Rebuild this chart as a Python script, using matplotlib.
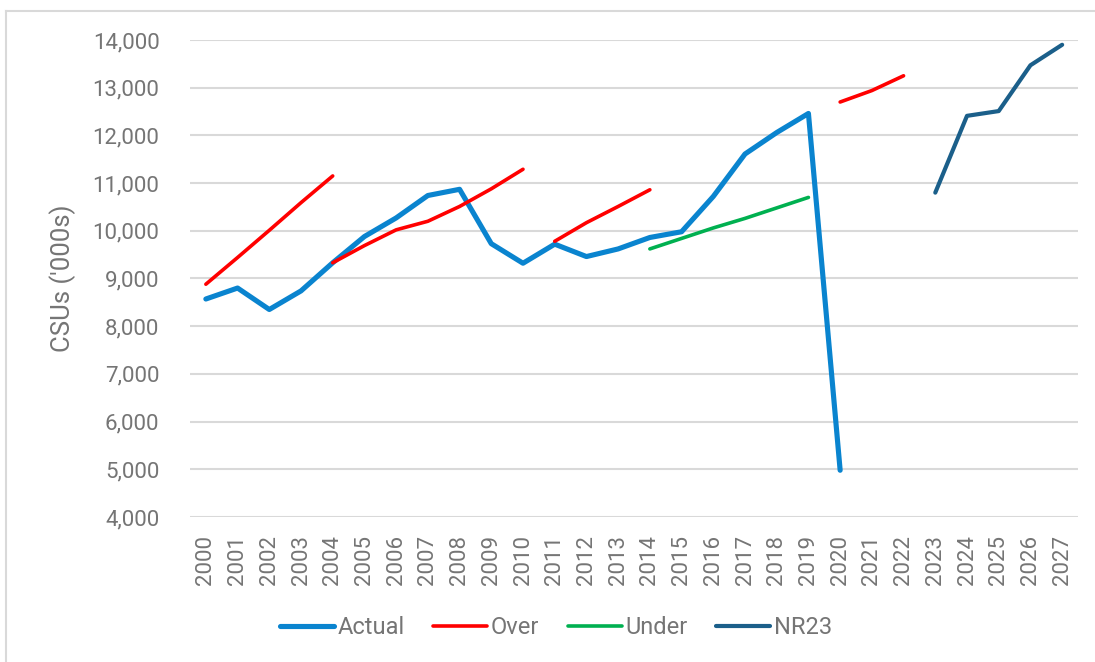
import numpy as np
import matplotlib
matplotlib.use("Agg")
import matplotlib.pyplot as plt
from matplotlib.lines import Line2D

plt.rcParams['font.family'] = ['Roboto', 'DejaVu Sans']

years = [str(y) for y in range(2000, 2028)]
nan = np.nan

actual = [8570, 8800, 8350, 8740, 9330, 9880, 10270, 10740, 10870, 9730,
          9320, 9720, 9460, 9620, 9860, 9980, 10720, 11610, 12060, 12460,
          4980, nan, nan, nan, nan, nan, nan, nan]
over = [8880, 9440, 10010, 10590, 11150, nan, nan, nan, nan, nan,
        nan, 9780, 10170, 10510, 10860, nan, nan, nan, nan, nan,
        12700, 12940, 13250, nan, nan, nan, nan, nan]
over_b = [nan, nan, nan, nan, 9330, 9690, 10020, 10200, 10510, 10880,
          11290, nan, nan, nan, nan, nan, nan, nan, nan, nan,
          nan, nan, nan, nan, nan, nan, nan, nan]
under = [nan] * 14 + [9620, 9840, 10060, 10260, 10480, 10700] + [nan] * 8
nr23 = [nan] * 23 + [10800, 12410, 12510, 13470, 13900]

yticks = list(range(4000, 14001, 1000))
ytick_labels = [f"{v:,}" for v in yticks]

TXT = '#757575'
GRID = '#d9d9d9'

fig = plt.figure(figsize=(10.95, 6.62), dpi=100)
ax = fig.add_axes([190/1095, 1 - 517/662, 888/1095, 477/662])

x = np.arange(len(years))
ax.plot(x, actual, color='#0a84cf', lw=3.7, solid_capstyle='round', solid_joinstyle='round', label='Actual', zorder=3)
ax.plot(x, over, color='#ff0000', lw=2.6, solid_capstyle='round', solid_joinstyle='round', label='Over', zorder=4)
ax.plot(x, over_b, color='#ff0000', lw=2.6, solid_capstyle='round', solid_joinstyle='round', zorder=4)
ax.plot(x, under, color='#00b050', lw=2.6, solid_capstyle='round', solid_joinstyle='round', label='Under', zorder=4)
ax.plot(x, nr23, color='#1b5f8a', lw=3.0, solid_capstyle='round', solid_joinstyle='round', label='NR23', zorder=4)

ax.set_xlim(-0.5, len(years) - 0.5)
ax.set_ylim(4000, 14000)
ax.set_yticks(yticks)
ax.set_yticklabels(ytick_labels)
ax.set_xticks(x)
ax.set_xticklabels(years, rotation=90)
ax.tick_params(axis='y', length=0, pad=22, labelsize=16, labelcolor=TXT)
ax.tick_params(axis='x', length=0, pad=13, labelsize=16, labelcolor=TXT)
for s in ax.spines.values():
    s.set_visible(False)
ax.grid(axis='y', color=GRID, lw=1.5)
ax.set_axisbelow(True)
ax.set_ylabel("CSUs ('000s)", fontsize=18.5, color=TXT, labelpad=12)

handles = [Line2D([], [], color='#0a84cf', lw=3.7, solid_capstyle='round'),
           Line2D([], [], color='#ff0000', lw=2.6, solid_capstyle='round'),
           Line2D([], [], color='#00b050', lw=2.6, solid_capstyle='round'),
           Line2D([], [], color='#1b5f8a', lw=3.0, solid_capstyle='round')]
leg = fig.legend(handles, ['Actual', 'Over', 'Under', 'NR23'], loc='center',
                 bbox_to_anchor=(556/1095, 1 - 628/662), ncol=4, frameon=False,
                 fontsize=17, handlelength=2.3, handletextpad=0.15, columnspacing=1.2)
for t in leg.get_texts():
    t.set_color(TXT)

# outer chart frame
fig.add_artist(Line2D([6/1095, 6/1095], [0, 1 - 11/662], transform=fig.transFigure, color=GRID, lw=1.5))
fig.add_artist(Line2D([6/1095, 1], [1 - 11/662, 1 - 11/662], transform=fig.transFigure, color=GRID, lw=1.5))

fig.savefig('out.png', dpi=100)
